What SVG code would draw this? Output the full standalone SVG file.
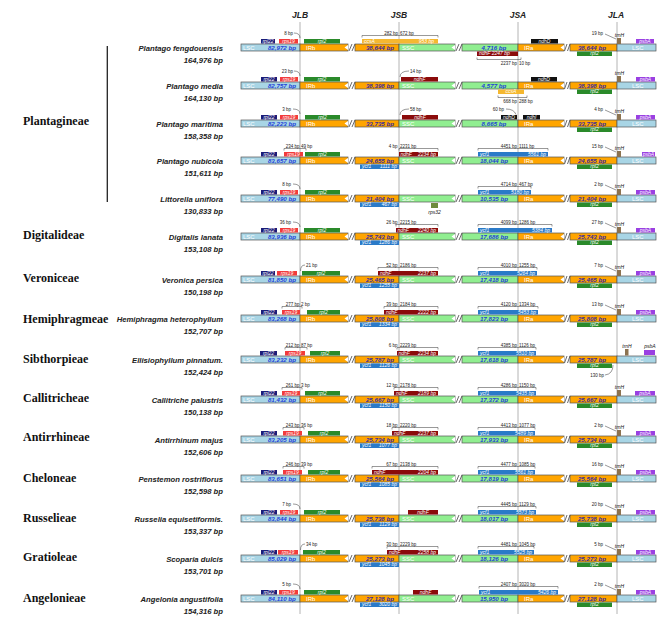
<svg xmlns="http://www.w3.org/2000/svg" xmlns:xlink="http://www.w3.org/1999/xlink" width="669" height="626" viewBox="0 0 669 626">
<style>
text{font-family:"Liberation Sans",Arial,sans-serif}
.lsc{fill:#a8d5e5;stroke:#555;stroke-width:.7}
.ir{fill:#ffa500;stroke:#555;stroke-width:.7}
.ssc{fill:#90ee90;stroke:#555;stroke-width:.7}
.sl{stroke:#444;stroke-width:.8}
.seg{font-size:6px;fill:#fff}
.bpb{font-size:6.2px;font-weight:bold;font-style:italic;fill:#1f3fd8;text-anchor:middle}
.bpi{font-size:6.2px;font-weight:bold;font-style:italic;fill:#3a2a9e;text-anchor:middle}
.gl{font-size:5px;font-style:italic;fill:#fff}
.m{text-anchor:middle}
.e{text-anchor:end}
.sm{font-size:4.5px;fill:#222}
.tl{font-size:5px;font-style:italic;fill:#111}
.br{stroke:#333;stroke-width:.5;fill:none}
.cv{stroke:#333;stroke-width:.5;fill:none}
.rpl22{fill:#1c1c78}.rps19{fill:#f23b3b}.rpl2{fill:#2a8a2a}.ccsA{fill:#f5b830}.ndhF{fill:#8b0b0b}.ndhD{fill:#111}.ycf1{fill:#2a7ac8}.trnH{fill:#8c7350}.psbA{fill:#9a40e2}.rps32{fill:#6e8b3d}
.sp{font-size:7.7px;font-weight:bold;font-style:italic;fill:#222;text-anchor:end}
.tr{font-family:"Liberation Serif","Times New Roman",serif;font-size:12px;font-weight:bold;fill:#111}
.hd{font-size:8.5px;font-weight:bold;font-style:italic;fill:#222;text-anchor:middle}
.jl{stroke:#b4b4b4;stroke-width:1}
</style>
<defs>
<g id="bb">
<rect class="lsc" x="241" y="-4" width="59" height="7"/>
<rect class="ir" x="300" y="-4" width="48" height="7"/>
<rect class="ir" x="355" y="-4" width="44" height="7"/>
<rect class="ssc" x="399" y="-4" width="56" height="7"/>
<rect class="ssc" x="462" y="-4" width="56" height="7"/>
<rect class="ir" x="518" y="-4" width="46" height="7"/>
<rect class="ir" x="570" y="-4" width="47" height="7"/>
<rect class="lsc" x="617" y="-4" width="39" height="7"/>
<polygon points="348,-3 348,2 344.5,-0.5" fill="#fff"/>
<polygon points="455,-3 455,2 451.5,-0.5" fill="#fff"/>
<polygon points="564,-3 564,2 560.5,-0.5" fill="#fff"/>
<path class="sl" d="M349 3L352 -4M352 3L355 -4M456 3L459 -4M459 3L462 -4M564.5 3L567 -4M567.5 3L570 -4"/>
<text class="seg" x="243" y="2">LSC</text>
<text class="seg" x="306" y="2">IRb</text>
<text class="seg" x="402" y="2">SSC</text>
<text class="seg" x="524" y="2">IRa</text>
<text class="seg" x="632" y="2">LSC</text>
</g>
</defs>
<rect width="669" height="626" fill="#fff"/>
<g id="connectors">
<line class="jl" x1="300" y1="22" x2="300" y2="614"/>
<line class="jl" x1="399" y1="22" x2="399" y2="614"/>
<line class="jl" x1="518" y1="22" x2="518" y2="614"/>
<line class="jl" x1="617" y1="22" x2="617" y2="614"/>
<line x1="107.3" y1="46" x2="107.3" y2="202" stroke="#222" stroke-width="1.3"/>
</g>
<g id="header">
<text class="hd" x="300" y="18">JLB</text>
<text class="hd" x="399" y="18">JSB</text>
<text class="hd" x="518" y="18">JSA</text>
<text class="hd" x="616" y="18">JLA</text>
</g>
<g id="tribes">
<text class="tr" x="23" y="125">Plantagineae</text>
<text class="tr" x="23" y="239">Digitalideae</text>
<text class="tr" x="23" y="282">Veroniceae</text>
<text class="tr" x="23" y="323">Hemiphragmeae</text>
<text class="tr" x="23" y="363">Sibthorpieae</text>
<text class="tr" x="23" y="402">Callitricheae</text>
<text class="tr" x="23" y="441">Antirrhineae</text>
<text class="tr" x="23" y="482">Cheloneae</text>
<text class="tr" x="23" y="522">Russelieae</text>
<text class="tr" x="23" y="561">Gratioleae</text>
<text class="tr" x="23" y="602">Angelonieae</text>
</g>

<!-- Row 1 -->
<g id="row1" transform="translate(0,48)">
<text class="sp" x="223" y="3">Plantago fengdouensis</text><text class="sp" x="223" y="15">164,976 bp</text>
<use xlink:href="#bb"/>
<rect class="rpl22" x="261" y="-9" width="14" height="4.5"/><text class="gl m" x="268" y="-5.3">rpl22</text>
<rect class="rps19" x="279" y="-9" width="19" height="4.5"/><text class="gl m" x="288.5" y="-5.3">rps19</text>
<rect class="rpl2" x="304" y="-9" width="36" height="4.5"/><text class="gl m" x="322" y="-5.3">rpl2</text>
<rect class="ccsA" x="362" y="-9" width="76" height="4.5"/><text class="gl" x="364" y="-5.3">ccsA</text><text class="gl e" x="434" y="-5.3">953 bp</text>
<rect class="ndhD" x="531" y="-9" width="27" height="4.5"/><text class="gl m" x="544.5" y="-5.3">ndhD</text>
<rect class="psbA" x="636" y="-9" width="18" height="4.5"/><text class="gl m" x="645" y="-5.3">psbA</text>
<rect class="trnH" x="617" y="-10" width="4" height="6"/><text class="tl m" x="619.5" y="-10.7">trnH</text>
<text class="sm e" x="603" y="-13.5">19 bp</text><path class="cv" d="M605 -14L616 -9"/>
<rect class="ndhF" x="477" y="3.5" width="41" height="4.5"/><text class="gl" x="479" y="7.4">ndhF 2247 bp</text>
<rect class="rpl2" x="577" y="3.5" width="35" height="4.5"/><text class="gl m" x="594.5" y="7.4">rpl2</text>
<path class="br" d="M362 -10.5V-12.5H438V-10.5"/><text class="sm e" x="398" y="-13.5">282 bp</text><text class="sm" x="400" y="-13.5">672 bp</text>
<path class="br" d="M477 9.5V11.5H521V9.5"/><text class="sm e" x="517" y="17">2237 bp</text><text class="sm" x="519" y="17">10 bp</text>
<text class="sm e" x="293" y="-13.5">8 bp</text><path class="cv" d="M294 -15Q300 -15 300 -10"/>
<text class="bpb" x="282" y="2.2">82,972 bp</text><text class="bpi" x="380" y="2.2">38,644 bp</text><text class="bpb" x="494" y="2.2">4,716 bp</text><text class="bpi" x="592" y="2.2">38,644 bp</text>
</g>

<!-- Row 2 -->
<g id="row2" transform="translate(0,86)">
<text class="sp" x="223" y="3">Plantago media</text><text class="sp" x="223" y="15">164,130 bp</text>
<use xlink:href="#bb"/>
<rect class="rpl22" x="261" y="-9" width="16" height="4.5"/><text class="gl m" x="269" y="-5.3">rpl22</text>
<rect class="rps19" x="280" y="-9" width="18" height="4.5"/><text class="gl m" x="289" y="-5.3">rps19</text>
<rect class="rpl2" x="304" y="-9" width="36" height="4.5"/><text class="gl m" x="322" y="-5.3">rpl2</text>
<rect class="ndhF" x="401" y="-9" width="37" height="4.5"/><text class="gl m" x="419.5" y="-5.3">ndhF</text>
<rect class="ndhD" x="531" y="-9" width="26" height="4.5"/><text class="gl m" x="544" y="-5.3">ndhD</text>
<rect class="psbA" x="636" y="-9" width="19" height="4.5"/><text class="gl m" x="645.5" y="-5.3">psbA</text>
<rect class="trnH" x="617" y="-10" width="4" height="6"/><text class="tl m" x="619.5" y="-10.7">trnH</text>
<rect class="ccsA" x="498" y="3.5" width="26" height="4.5"/><text class="gl m" x="511" y="7.4">ccsA</text>
<rect class="rpl2" x="577" y="3.5" width="35" height="4.5"/><text class="gl m" x="594.5" y="7.4">rpl2</text>
<path class="br" d="M498 9.5V11.5H527V9.5"/><text class="sm e" x="517" y="17">668 bp</text><text class="sm" x="519" y="17">288 bp</text>
<text class="sm e" x="293" y="-13.5">23 bp</text><path class="cv" d="M294 -15Q300 -15 300 -10"/>
<text class="sm" x="410" y="-13.5">14 bp</text><path class="cv" d="M400 -9Q400 -15 409 -15"/>
<text class="bpb" x="282" y="2.2">82,757 bp</text><text class="bpi" x="380" y="2.2">38,398 bp</text><text class="bpb" x="494" y="2.2">4,577 bp</text><text class="bpi" x="592" y="2.2">38,398 bp</text>
</g>

<!-- Row 3 -->
<g id="row3" transform="translate(0,124)">
<text class="sp" x="223" y="3">Plantago maritima</text><text class="sp" x="223" y="15">158,358 bp</text>
<use xlink:href="#bb"/>
<rect class="rpl22" x="261" y="-9" width="16" height="4.5"/><text class="gl m" x="269" y="-5.3">rpl22</text>
<rect class="rps19" x="280" y="-9" width="18" height="4.5"/><text class="gl m" x="289" y="-5.3">rps19</text>
<rect class="rpl2" x="305" y="-9" width="35" height="4.5"/><text class="gl m" x="322.5" y="-5.3">rpl2</text>
<rect class="ndhF" x="402" y="-9" width="36" height="4.5"/><text class="gl m" x="420" y="-5.3">ndhF</text>
<rect class="ndhD" x="501" y="-9" width="16" height="4.5"/><text class="gl m" x="509" y="-5.3">ndhD</text>
<rect class="ndhD" x="523" y="-9" width="17" height="4.5"/><text class="gl m" x="531.5" y="-5.3">ndhI</text>
<rect class="psbA" x="636" y="-9" width="19" height="4.5"/><text class="gl m" x="645.5" y="-5.3">psbA</text>
<rect class="trnH" x="617" y="-10" width="4" height="6"/><text class="tl m" x="619.5" y="-10.7">trnH</text>
<text class="sm e" x="603" y="-13.5">4 bp</text><path class="cv" d="M605 -14L616 -9"/>
<rect class="rpl2" x="577" y="3.5" width="35" height="4.5"/><text class="gl m" x="594.5" y="7.4">rpl2</text>
<text class="sm e" x="291" y="-13.5">3 bp</text><path class="cv" d="M293 -15Q300 -15 300 -10"/>
<text class="sm" x="410" y="-13.5">58 bp</text><path class="cv" d="M400 -9Q400 -15 409 -15"/>
<text class="sm e" x="504" y="-13.5">60 bp</text><path class="cv" d="M506 -15Q514 -15 516 -9.5"/>
<text class="bpb" x="282" y="2.2">82,223 bp</text><text class="bpi" x="380" y="2.2">33,735 bp</text><text class="bpb" x="494" y="2.2">8,665 bp</text><text class="bpi" x="592" y="2.2">33,735 bp</text>
</g>

<!-- Row 4 -->
<g id="row4" transform="translate(0,161)">
<text class="sp" x="223" y="3">Plantago nubicola</text><text class="sp" x="223" y="15">151,611 bp</text>
<use xlink:href="#bb"/>
<rect class="rpl22" x="261" y="-9" width="16" height="4.5"/><text class="gl m" x="269" y="-5.3">rpl22</text>
<rect class="rps19" x="284" y="-9" width="19" height="4.5"/><text class="gl m" x="293.5" y="-5.3">rps19</text>
<rect class="rpl2" x="305" y="-9" width="35" height="4.5" fill="#3c9a3c"/><text class="gl m" x="322.5" y="-5.3">rpl2</text>
<rect class="ndhF" x="399" y="-9" width="39" height="4.5"/><text class="gl" x="400.5" y="-5.3">ndhF</text><text class="gl e" x="436" y="-5.3">2234 bp</text>
<rect class="ycf1" x="478" y="-9" width="70" height="4.5"/><text class="gl" x="480" y="-5.3">ycf1</text><text class="gl e" x="546" y="-5.3">5561 bp</text>
<rect class="psbA" x="642" y="-9" width="13" height="4.5"/><text class="gl m" x="648.5" y="-5.3">psbA</text>
<rect class="trnH" x="617" y="-10" width="4" height="6"/><text class="tl m" x="619.5" y="-10.7">trnH</text>
<text class="sm e" x="603" y="-13.5">15 bp</text><path class="cv" d="M605 -14L616 -9"/>
<rect class="ycf1" x="360" y="3.5" width="39" height="4.5"/><text class="gl" x="362" y="7.4">ycf1</text><text class="gl e" x="397" y="7.4">1111 bp</text>
<rect class="rpl2" x="577" y="3.5" width="35" height="4.5"/><text class="gl m" x="594.5" y="7.4">rpl2</text>
<path class="br" d="M284 -10.5V-12.5H306V-10.5"/><text class="sm e" x="299.5" y="-13.5">234 bp</text><text class="sm" x="301" y="-13.5">49 bp</text>
<path class="br" d="M399 -10.5V-12.5H438V-10.5"/><text class="sm e" x="397.5" y="-13.5">4 bp</text><text class="sm" x="400" y="-13.5">2231 bp</text>
<path class="br" d="M478 -10.5V-12.5H548V-10.5"/><text class="sm e" x="517" y="-13.5">4451 bp</text><text class="sm" x="519" y="-13.5">1111 bp</text>
<text class="bpb" x="282" y="2.2">83,657 bp</text><text class="bpi" x="380" y="2.2">24,655 bp</text><text class="bpb" x="494" y="2.2">18,044 bp</text><text class="bpi" x="592" y="2.2">24,655 bp</text>
</g>

<!-- Row 5 -->
<g id="row5" transform="translate(0,199)">
<text class="sp" x="223" y="3">Littorella uniflora</text><text class="sp" x="223" y="15">130,833 bp</text>
<use xlink:href="#bb"/>
<rect class="rpl22" x="261" y="-9" width="16" height="4.5"/><text class="gl m" x="269" y="-5.3">rpl22</text>
<rect class="rps19" x="280" y="-9" width="18" height="4.5"/><text class="gl m" x="289" y="-5.3">rps19</text>
<rect class="rpl2" x="305" y="-9" width="35" height="4.5"/><text class="gl m" x="322.5" y="-5.3">rpl2</text>
<rect class="ycf1" x="478" y="-9" width="53" height="4.5"/><text class="gl" x="480" y="-5.3">ycf1</text><text class="gl e" x="529" y="-5.3">5180 bp</text>
<rect class="psbA" x="636" y="-9" width="19" height="4.5"/><text class="gl m" x="645.5" y="-5.3">psbA</text>
<rect class="trnH" x="617" y="-10" width="4" height="6"/><text class="tl m" x="619.5" y="-10.7">trnH</text>
<text class="sm e" x="603" y="-13.5">2 bp</text><path class="cv" d="M605 -14L616 -9"/>
<rect class="ycf1" x="360" y="3.5" width="39" height="4.5"/><text class="gl" x="362" y="7.4">ycf1</text><text class="gl e" x="397" y="7.4">467 bp</text>
<rect class="rps32" x="431" y="4" width="7" height="5"/><text class="tl m" x="434.5" y="14.5">rps32</text>
<rect class="rpl2" x="577" y="3.5" width="35" height="4.5"/><text class="gl m" x="594.5" y="7.4">rpl2</text>
<path class="br" d="M478 -10.5V-12.5H531V-10.5"/><text class="sm e" x="517" y="-13.5">4714 bp</text><text class="sm" x="519" y="-13.5">467 bp</text>
<text class="sm e" x="291" y="-13.5">8 bp</text><path class="cv" d="M293 -15Q300 -15 300 -10"/>
<text class="bpb" x="282" y="2.2">77,490 bp</text><text class="bpi" x="380" y="2.2">21,404 bp</text><text class="bpb" x="494" y="2.2">10,535 bp</text><text class="bpi" x="592" y="2.2">21,404 bp</text>
</g>

<!-- Row 6 -->
<g id="row6" transform="translate(0,237)">
<text class="sp" x="223" y="3">Digitalis lanata</text><text class="sp" x="223" y="15">153,108 bp</text>
<use xlink:href="#bb"/>
<rect class="rpl22" x="261" y="-9" width="16" height="4.5"/><text class="gl m" x="269" y="-5.3">rpl22</text>
<rect class="rps19" x="280" y="-9" width="18" height="4.5"/><text class="gl m" x="289" y="-5.3">rps19</text>
<rect class="rpl2" x="304" y="-9" width="36" height="4.5"/><text class="gl m" x="322" y="-5.3">rpl2</text>
<rect class="ndhF" x="396" y="-9" width="42" height="4.5"/><text class="gl" x="397.5" y="-5.3">ndhF</text><text class="gl e" x="436" y="-5.3">2240 bp</text>
<rect class="ycf1" x="478" y="-9" width="74" height="4.5"/><text class="gl" x="480" y="-5.3">ycf1</text><text class="gl e" x="550" y="-5.3">5384 bp</text>
<rect class="psbA" x="636" y="-9" width="19" height="4.5"/><text class="gl m" x="645.5" y="-5.3">psbA</text>
<rect class="trnH" x="617" y="-10" width="4" height="6"/><text class="tl m" x="619.5" y="-10.7">trnH</text>
<text class="sm e" x="603" y="-13.5">27 bp</text><path class="cv" d="M605 -14L616 -9"/>
<rect class="ycf1" x="360" y="3.5" width="39" height="4.5"/><text class="gl" x="362" y="7.4">ycf1</text><text class="gl e" x="397" y="7.4">1286 bp</text>
<rect class="rpl2" x="577" y="3.5" width="35" height="4.5"/><text class="gl m" x="594.5" y="7.4">rpl2</text>
<path class="br" d="M396 -10.5V-12.5H438V-10.5"/><text class="sm e" x="397.5" y="-13.5">26 bp</text><text class="sm" x="400" y="-13.5">2215 bp</text>
<path class="br" d="M478 -10.5V-12.5H552V-10.5"/><text class="sm e" x="517" y="-13.5">4099 bp</text><text class="sm" x="519" y="-13.5">1286 bp</text>
<text class="sm e" x="291" y="-13.5">36 bp</text><path class="cv" d="M293 -15Q300 -15 300 -10"/>
<text class="bpb" x="282" y="2.2">83,936 bp</text><text class="bpi" x="380" y="2.2">25,743 bp</text><text class="bpb" x="494" y="2.2">17,686 bp</text><text class="bpi" x="592" y="2.2">25,743 bp</text>
</g>

<!-- Row 7 -->
<g id="row7" transform="translate(0,280)">
<text class="sp" x="223" y="3">Veronica persica</text><text class="sp" x="223" y="15">150,198 bp</text>
<use xlink:href="#bb"/>
<rect class="rpl22" x="261" y="-9" width="14" height="4.5"/><text class="gl m" x="268" y="-5.3">rpl22</text>
<rect class="rps19" x="277" y="-9" width="20" height="4.5"/><text class="gl m" x="287" y="-5.3">rps19</text>
<rect class="rpl2" x="302" y="-9" width="38" height="4.5"/><text class="gl m" x="321" y="-5.3">rpl2</text>
<rect class="ndhF" x="378" y="-9" width="60" height="4.5"/><text class="gl" x="380" y="-5.3">ndhF</text><text class="gl e" x="436" y="-5.3">2237 bp</text>
<rect class="ycf1" x="478" y="-9" width="59" height="4.5"/><text class="gl" x="480" y="-5.3">ycf1</text><text class="gl e" x="535" y="-5.3">5264 bp</text>
<rect class="psbA" x="636" y="-9" width="19" height="4.5"/><text class="gl m" x="645.5" y="-5.3">psbA</text>
<rect class="trnH" x="617" y="-10" width="4" height="6"/><text class="tl m" x="619.5" y="-10.7">trnH</text>
<text class="sm e" x="603" y="-13.5">7 bp</text><path class="cv" d="M605 -14L616 -9"/>
<rect class="ycf1" x="360" y="3.5" width="39" height="4.5"/><text class="gl" x="362" y="7.4">ycf1</text><text class="gl e" x="397" y="7.4">1255 bp</text>
<rect class="rpl2" x="577" y="3.5" width="35" height="4.5"/><text class="gl m" x="594.5" y="7.4">rpl2</text>
<path class="br" d="M378 -10.5V-12.5H438V-10.5"/><text class="sm e" x="397.5" y="-13.5">52 bp</text><text class="sm" x="400" y="-13.5">2186 bp</text>
<path class="br" d="M478 -10.5V-12.5H537V-10.5"/><text class="sm e" x="517" y="-13.5">4010 bp</text><text class="sm" x="519" y="-13.5">1255 bp</text>
<text class="sm" x="306" y="-13.5">21 bp</text><path class="cv" d="M300.5 -9Q300.5 -15 305 -15"/>
<text class="bpb" x="282" y="2.2">81,850 bp</text><text class="bpi" x="380" y="2.2">25,465 bp</text><text class="bpb" x="494" y="2.2">17,418 bp</text><text class="bpi" x="592" y="2.2">25,465 bp</text>
</g>

<!-- Row 8 -->
<g id="row8" transform="translate(0,319)">
<text class="sp" x="223" y="3">Hemiphragma heterophyllum</text><text class="sp" x="223" y="15">152,707 bp</text>
<use xlink:href="#bb"/>
<rect class="rpl22" x="261" y="-9" width="16" height="4.5"/><text class="gl m" x="269" y="-5.3">rpl22</text>
<rect class="rps19" x="282" y="-9" width="18" height="4.5"/><text class="gl m" x="291" y="-5.3">rps19</text>
<rect class="rpl2" x="307" y="-9" width="33" height="4.5"/><text class="gl m" x="323.5" y="-5.3">rpl2</text>
<rect class="ndhF" x="384" y="-9" width="54" height="4.5"/><text class="gl" x="386" y="-5.3">ndhF</text><text class="gl e" x="436" y="-5.3">2222 bp</text>
<rect class="ycf1" x="478" y="-9" width="60" height="4.5"/><text class="gl" x="480" y="-5.3">ycf1</text><text class="gl e" x="536" y="-5.3">5453 bp</text>
<rect class="psbA" x="636" y="-9" width="19" height="4.5"/><text class="gl m" x="645.5" y="-5.3">psbA</text>
<rect class="trnH" x="617" y="-10" width="4" height="6"/><text class="tl m" x="619.5" y="-10.7">trnH</text>
<text class="sm e" x="603" y="-13.5">13 bp</text><path class="cv" d="M605 -14L616 -9"/>
<rect class="ycf1" x="360" y="3.5" width="39" height="4.5"/><text class="gl" x="362" y="7.4">ycf1</text><text class="gl e" x="397" y="7.4">1334 bp</text>
<rect class="rpl2" x="577" y="3.5" width="35" height="4.5"/><text class="gl m" x="594.5" y="7.4">rpl2</text>
<path class="br" d="M282 -10.5V-12.5H302V-10.5"/><text class="sm e" x="299.5" y="-13.5">277 bp</text><text class="sm" x="301" y="-13.5">2 bp</text>
<path class="br" d="M384 -10.5V-12.5H438V-10.5"/><text class="sm e" x="397.5" y="-13.5">39 bp</text><text class="sm" x="400" y="-13.5">2184 bp</text>
<path class="br" d="M478 -10.5V-12.5H538V-10.5"/><text class="sm e" x="517" y="-13.5">4120 bp</text><text class="sm" x="519" y="-13.5">1334 bp</text>
<text class="bpb" x="282" y="2.2">83,268 bp</text><text class="bpi" x="380" y="2.2">25,808 bp</text><text class="bpb" x="494" y="2.2">17,823 bp</text><text class="bpi" x="592" y="2.2">25,808 bp</text>
</g>

<!-- Row 9 -->
<g id="row9" transform="translate(0,360)">
<text class="sp" x="223" y="3">Ellisiophyllum pinnatum.</text><text class="sp" x="223" y="15">152,424 bp</text>
<use xlink:href="#bb"/>
<rect class="rpl22" x="260" y="-9" width="17" height="4.5"/><text class="gl m" x="268.5" y="-5.3">rpl22</text>
<rect class="rps19" x="285" y="-9" width="20" height="4.5"/><text class="gl m" x="295" y="-5.3">rps19</text>
<rect class="rpl2" x="310" y="-9" width="30" height="4.5"/><text class="gl m" x="325" y="-5.3">rpl2</text>
<rect class="ndhF" x="397" y="-9" width="41" height="4.5"/><text class="gl" x="398.5" y="-5.3">ndhF</text><text class="gl e" x="436" y="-5.3">2234 bp</text>
<rect class="ycf1" x="478" y="-9" width="58" height="4.5"/><text class="gl" x="480" y="-5.3">ycf1</text><text class="gl e" x="534" y="-5.3">5510 bp</text>
<rect class="trnH" x="625" y="-11" width="3.5" height="6.5"/><text class="tl m" x="627" y="-12">trnH</text>
<rect class="psbA" x="644" y="-10" width="11" height="5"/><text class="tl m" x="650" y="-12">psbA</text>
<rect class="ycf1" x="360" y="3.5" width="39" height="4.5"/><text class="gl" x="362" y="7.4">ycf1</text><text class="gl e" x="397" y="7.4">1126 bp</text>
<rect class="rpl2" x="577" y="3.5" width="35" height="4.5"/><text class="gl m" x="594.5" y="7.4">rpl2</text>
<text class="sm e" x="604" y="16.5">130 bp</text><path class="cv" d="M605 15Q613 14 613 5"/>
<path class="br" d="M285 -10.5V-12.5H307V-10.5"/><text class="sm e" x="299.5" y="-13.5">212 bp</text><text class="sm" x="301" y="-13.5">87 bp</text>
<path class="br" d="M397 -10.5V-12.5H438V-10.5"/><text class="sm e" x="397.5" y="-13.5">6 bp</text><text class="sm" x="400" y="-13.5">2229 bp</text>
<path class="br" d="M478 -10.5V-12.5H536V-10.5"/><text class="sm e" x="517" y="-13.5">4385 bp</text><text class="sm" x="519" y="-13.5">1126 bp</text>
<text class="bpb" x="282" y="2.2">83,232 bp</text><text class="bpi" x="380" y="2.2">25,787 bp</text><text class="bpb" x="494" y="2.2">17,618 bp</text><text class="bpi" x="592" y="2.2">25,787 bp</text>
</g>

<!-- Row 10 -->
<g id="row10" transform="translate(0,400)">
<text class="sp" x="223" y="3">Callitriche palustris</text><text class="sp" x="223" y="15">150,138 bp</text>
<use xlink:href="#bb"/>
<rect class="rpl22" x="261" y="-9" width="16" height="4.5"/><text class="gl m" x="269" y="-5.3">rpl22</text>
<rect class="rps19" x="282" y="-9" width="18" height="4.5"/><text class="gl m" x="291" y="-5.3">rps19</text>
<rect class="rpl2" x="305" y="-9" width="35" height="4.5"/><text class="gl m" x="322.5" y="-5.3">rpl2</text>
<rect class="ndhF" x="394" y="-9" width="44" height="4.5"/><text class="gl" x="396" y="-5.3">ndhF</text><text class="gl e" x="436" y="-5.3">2189 bp</text>
<rect class="ycf1" x="478" y="-9" width="58" height="4.5"/><text class="gl" x="480" y="-5.3">ycf1</text><text class="gl e" x="534" y="-5.3">5435 bp</text>
<rect class="psbA" x="635" y="-9" width="20" height="4.5"/><text class="gl m" x="645" y="-5.3">psbA</text>
<rect class="trnH" x="617" y="-10" width="4" height="6"/><text class="tl m" x="619.5" y="-10.7">trnH</text>
<rect class="ycf1" x="360" y="3.5" width="39" height="4.5"/><text class="gl" x="362" y="7.4">ycf1</text><text class="gl e" x="397" y="7.4">1150 bp</text>
<rect class="rpl2" x="577" y="3.5" width="35" height="4.5"/><text class="gl m" x="594.5" y="7.4">rpl2</text>
<path class="br" d="M282 -10.5V-12.5H302V-10.5"/><text class="sm e" x="299.5" y="-13.5">261 bp</text><text class="sm" x="301" y="-13.5">3 bp</text>
<path class="br" d="M394 -10.5V-12.5H438V-10.5"/><text class="sm e" x="397.5" y="-13.5">12 bp</text><text class="sm" x="400" y="-13.5">2178 bp</text>
<path class="br" d="M478 -10.5V-12.5H536V-10.5"/><text class="sm e" x="517" y="-13.5">4286 bp</text><text class="sm" x="519" y="-13.5">1150 bp</text>
<text class="bpb" x="282" y="2.2">81,432 bp</text><text class="bpi" x="380" y="2.2">25,667 bp</text><text class="bpb" x="494" y="2.2">17,372 bp</text><text class="bpi" x="592" y="2.2">25,667 bp</text>
</g>

<!-- Row 11 -->
<g id="row11" transform="translate(0,440)">
<text class="sp" x="223" y="3">Antirrhinum majus</text><text class="sp" x="223" y="15">152,606 bp</text>
<use xlink:href="#bb"/>
<rect class="rpl22" x="261" y="-9" width="16" height="4.5"/><text class="gl m" x="269" y="-5.3">rpl22</text>
<rect class="rps19" x="283" y="-9" width="19" height="4.5"/><text class="gl m" x="292.5" y="-5.3">rps19</text>
<rect class="rpl2" x="308" y="-9" width="32" height="4.5"/><text class="gl m" x="324" y="-5.3">rpl2</text>
<rect class="ndhF" x="392" y="-9" width="46" height="4.5"/><text class="gl" x="394" y="-5.3">ndhF</text><text class="gl e" x="436" y="-5.3">2237 bp</text>
<rect class="ycf1" x="478" y="-9" width="57" height="4.5"/><text class="gl" x="480" y="-5.3">ycf1</text><text class="gl e" x="533" y="-5.3">5489 bp</text>
<rect class="psbA" x="636" y="-9" width="19" height="4.5"/><text class="gl m" x="645.5" y="-5.3">psbA</text>
<rect class="trnH" x="617" y="-10" width="4" height="6"/><text class="tl m" x="619.5" y="-10.7">trnH</text>
<text class="sm e" x="603" y="-13.5">2 bp</text><path class="cv" d="M605 -14L616 -9"/>
<rect class="ycf1" x="360" y="3.5" width="39" height="4.5"/><text class="gl" x="362" y="7.4">ycf1</text><text class="gl e" x="397" y="7.4">1077 bp</text>
<rect class="rpl2" x="577" y="3.5" width="35" height="4.5"/><text class="gl m" x="594.5" y="7.4">rpl2</text>
<path class="br" d="M283 -10.5V-12.5H304V-10.5"/><text class="sm e" x="299.5" y="-13.5">243 bp</text><text class="sm" x="301" y="-13.5">36 bp</text>
<path class="br" d="M392 -10.5V-12.5H438V-10.5"/><text class="sm e" x="397.5" y="-13.5">18 bp</text><text class="sm" x="400" y="-13.5">2220 bp</text>
<path class="br" d="M478 -10.5V-12.5H535V-10.5"/><text class="sm e" x="517" y="-13.5">4413 bp</text><text class="sm" x="519" y="-13.5">1077 bp</text>
<text class="bpb" x="282" y="2.2">83,205 bp</text><text class="bpi" x="380" y="2.2">25,734 bp</text><text class="bpb" x="494" y="2.2">17,933 bp</text><text class="bpi" x="592" y="2.2">25,734 bp</text>
</g>

<!-- Row 12 -->
<g id="row12" transform="translate(0,479)">
<text class="sp" x="223" y="3">Penstemon rostriflorus</text><text class="sp" x="223" y="15">152,598 bp</text>
<use xlink:href="#bb"/>
<rect class="rpl22" x="261" y="-9" width="16" height="4.5"/><text class="gl m" x="269" y="-5.3">rpl22</text>
<rect class="rps19" x="283" y="-9" width="19" height="4.5"/><text class="gl m" x="292.5" y="-5.3">rps19</text>
<rect class="rpl2" x="308" y="-9" width="32" height="4.5"/><text class="gl m" x="324" y="-5.3">rpl2</text>
<rect class="ndhF" x="372" y="-9" width="66" height="4.5"/><text class="gl" x="374" y="-5.3">ndhF</text><text class="gl e" x="436" y="-5.3">2204 bp</text>
<rect class="ycf1" x="478" y="-9" width="57" height="4.5"/><text class="gl" x="480" y="-5.3">ycf1</text><text class="gl e" x="533" y="-5.3">5561 bp</text>
<rect class="psbA" x="636" y="-9" width="19" height="4.5"/><text class="gl m" x="645.5" y="-5.3">psbA</text>
<rect class="trnH" x="617" y="-10" width="4" height="6"/><text class="tl m" x="619.5" y="-10.7">trnH</text>
<text class="sm e" x="603" y="-13.5">16 bp</text><path class="cv" d="M605 -14L616 -9"/>
<rect class="ycf1" x="360" y="3.5" width="39" height="4.5"/><text class="gl" x="362" y="7.4">ycf1</text><text class="gl e" x="397" y="7.4">1085 bp</text>
<rect class="rpl2" x="577" y="3.5" width="35" height="4.5"/><text class="gl m" x="594.5" y="7.4">rpl2</text>
<path class="br" d="M283 -10.5V-12.5H304V-10.5"/><text class="sm e" x="299.5" y="-13.5">246 bp</text><text class="sm" x="301" y="-13.5">39 bp</text>
<path class="br" d="M372 -10.5V-12.5H438V-10.5"/><text class="sm e" x="397.5" y="-13.5">67 bp</text><text class="sm" x="400" y="-13.5">2138 bp</text>
<path class="br" d="M478 -10.5V-12.5H535V-10.5"/><text class="sm e" x="517" y="-13.5">4477 bp</text><text class="sm" x="519" y="-13.5">1085 bp</text>
<text class="bpb" x="282" y="2.2">83,651 bp</text><text class="bpi" x="380" y="2.2">25,564 bp</text><text class="bpb" x="494" y="2.2">17,819 bp</text><text class="bpi" x="592" y="2.2">25,564 bp</text>
</g>

<!-- Row 13 -->
<g id="row13" transform="translate(0,519)">
<text class="sp" x="223" y="3">Russelia equisetiformis.</text><text class="sp" x="223" y="15">153,337 bp</text>
<use xlink:href="#bb"/>
<rect class="rpl22" x="261" y="-9" width="16" height="4.5"/><text class="gl m" x="269" y="-5.3">rpl22</text>
<rect class="rps19" x="280" y="-9" width="18" height="4.5"/><text class="gl m" x="289" y="-5.3">rps19</text>
<rect class="rpl2" x="304" y="-9" width="36" height="4.5"/><text class="gl m" x="322" y="-5.3">rpl2</text>
<rect class="ndhF" x="408" y="-9" width="30" height="4.5"/><text class="gl m" x="423" y="-5.3">ndhF</text>
<rect class="ycf1" x="478" y="-9" width="58" height="4.5"/><text class="gl" x="480" y="-5.3">ycf1</text><text class="gl e" x="534" y="-5.3">5573 bp</text>
<rect class="psbA" x="636" y="-9" width="19" height="4.5"/><text class="gl m" x="645.5" y="-5.3">psbA</text>
<rect class="trnH" x="617" y="-10" width="4" height="6"/><text class="tl m" x="619.5" y="-10.7">trnH</text>
<text class="sm e" x="603" y="-13.5">20 bp</text><path class="cv" d="M605 -14L616 -9"/>
<rect class="ycf1" x="360" y="3.5" width="39" height="4.5"/><text class="gl" x="362" y="7.4">ycf1</text><text class="gl e" x="397" y="7.4">1129 bp</text>
<rect class="rpl2" x="577" y="3.5" width="35" height="4.5"/><text class="gl m" x="594.5" y="7.4">rpl2</text>
<path class="br" d="M478 -10.5V-12.5H536V-10.5"/><text class="sm e" x="517" y="-13.5">4445 bp</text><text class="sm" x="519" y="-13.5">1129 bp</text>
<text class="sm e" x="291" y="-13.5">7 bp</text><path class="cv" d="M293 -15Q300 -15 300 -10"/>
<text class="bpb" x="282" y="2.2">83,844 bp</text><text class="bpi" x="380" y="2.2">25,738 bp</text><text class="bpb" x="494" y="2.2">18,017 bp</text><text class="bpi" x="592" y="2.2">25,738 bp</text>
</g>

<!-- Row 14 -->
<g id="row14" transform="translate(0,559)">
<text class="sp" x="223" y="3">Scoparia dulcis</text><text class="sp" x="223" y="15">153,701 bp</text>
<use xlink:href="#bb"/>
<rect class="rpl22" x="261" y="-9" width="16" height="4.5"/><text class="gl m" x="269" y="-5.3">rpl22</text>
<rect class="rps19" x="278" y="-9" width="20" height="4.5"/><text class="gl m" x="288" y="-5.3">rps19</text>
<rect class="rpl2" x="303" y="-9" width="37" height="4.5"/><text class="gl m" x="321.5" y="-5.3">rpl2</text>
<rect class="ndhF" x="387" y="-9" width="51" height="4.5"/><text class="gl" x="389" y="-5.3">ndhF</text><text class="gl e" x="436" y="-5.3">2258 bp</text>
<rect class="ycf1" x="478" y="-9" width="56" height="4.5"/><text class="gl" x="480" y="-5.3">ycf1</text><text class="gl e" x="532" y="-5.3">5525 bp</text>
<rect class="psbA" x="636" y="-9" width="19" height="4.5"/><text class="gl m" x="645.5" y="-5.3">psbA</text>
<rect class="trnH" x="617" y="-10" width="4" height="6"/><text class="tl m" x="619.5" y="-10.7">trnH</text>
<text class="sm e" x="603" y="-13.5">5 bp</text><path class="cv" d="M605 -14L616 -9"/>
<rect class="ycf1" x="360" y="3.5" width="39" height="4.5"/><text class="gl" x="362" y="7.4">ycf1</text><text class="gl e" x="397" y="7.4">1045 bp</text>
<rect class="rpl2" x="577" y="3.5" width="35" height="4.5"/><text class="gl m" x="594.5" y="7.4">rpl2</text>
<path class="br" d="M387 -10.5V-12.5H438V-10.5"/><text class="sm e" x="397.5" y="-13.5">30 bp</text><text class="sm" x="400" y="-13.5">2229 bp</text>
<path class="br" d="M478 -10.5V-12.5H534V-10.5"/><text class="sm e" x="517" y="-13.5">4481 bp</text><text class="sm" x="519" y="-13.5">1045 bp</text>
<text class="sm" x="306" y="-13.5">34 bp</text><path class="cv" d="M300.5 -9Q300.5 -15 305 -15"/>
<text class="bpb" x="282" y="2.2">85,029 bp</text><text class="bpi" x="380" y="2.2">25,273 bp</text><text class="bpb" x="494" y="2.2">18,126 bp</text><text class="bpi" x="592" y="2.2">25,273 bp</text>
</g>

<!-- Row 15 -->
<g id="row15" transform="translate(0,599)">
<text class="sp" x="223" y="3">Angelonia angustifolia</text><text class="sp" x="223" y="15">154,316 bp</text>
<use xlink:href="#bb"/>
<rect class="rpl22" x="261" y="-9" width="16" height="4.5"/><text class="gl m" x="269" y="-5.3">rpl22</text>
<rect class="rps19" x="279" y="-9" width="19" height="4.5"/><text class="gl m" x="288.5" y="-5.3">rps19</text>
<rect class="rpl2" x="304" y="-9" width="36" height="4.5"/><text class="gl m" x="322" y="-5.3">rpl2</text>
<rect class="ndhF" x="413" y="-9" width="25" height="4.5"/><text class="gl m" x="425.5" y="-5.3">ndhF</text>
<rect class="ycf1" x="479" y="-9" width="79" height="4.5"/><text class="gl" x="481" y="-5.3">ycf1</text><text class="gl e" x="556" y="-5.3">5426 bp</text>
<rect class="psbA" x="636" y="-9" width="19" height="4.5"/><text class="gl m" x="645.5" y="-5.3">psbA</text>
<rect class="trnH" x="617" y="-10" width="4" height="6"/><text class="tl m" x="619.5" y="-10.7">trnH</text>
<text class="sm e" x="603" y="-13.5">2 bp</text><path class="cv" d="M605 -14L616 -9"/>
<rect class="ycf1" x="360" y="3.5" width="39" height="4.5"/><text class="gl" x="362" y="7.4">ycf1</text><text class="gl e" x="397" y="7.4">3020 bp</text>
<rect class="rpl2" x="577" y="3.5" width="35" height="4.5"/><text class="gl m" x="594.5" y="7.4">rpl2</text>
<path class="br" d="M479 -10.5V-12.5H558V-10.5"/><text class="sm e" x="517" y="-13.5">2407 bp</text><text class="sm" x="519" y="-13.5">3020 bp</text>
<text class="sm e" x="291" y="-13.5">5 bp</text><path class="cv" d="M293 -15Q300 -15 300 -10"/>
<text class="bpb" x="282" y="2.2">84,110 bp</text><text class="bpi" x="380" y="2.2">27,128 bp</text><text class="bpb" x="494" y="2.2">15,950 bp</text><text class="bpi" x="592" y="2.2">27,128 bp</text>
</g>
</svg>
